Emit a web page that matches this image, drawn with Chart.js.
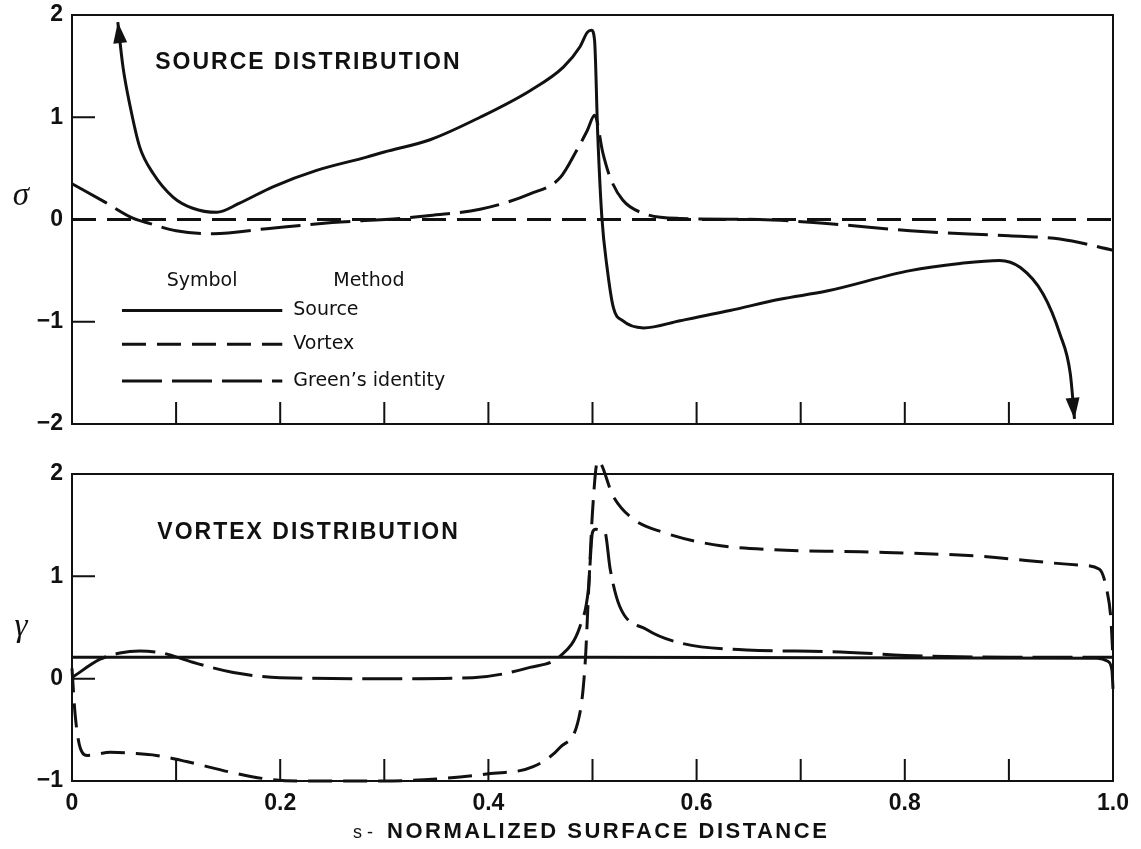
<!DOCTYPE html>
<html>
<head>
<meta charset="utf-8">
<script src="https://cdn.jsdelivr.net/npm/chart.js@4.4.1/dist/chart.umd.min.js"></script>
<style>
  html, body { margin: 0; padding: 0; background: #fff; }
  #wrap { position: relative; width: 1141px; height: 849px; }
  canvas { position: absolute; left: 0; }
  #sigma-chart { top: 0; }
  #gamma-chart { top: 445px; }
</style>
</head>
<body>
<div id="wrap">
  <canvas id="sigma-chart" width="1141" height="445"></canvas>
  <canvas id="gamma-chart" width="1141" height="404"></canvas>
</div>
<script>
// s = normalized surface distance

// source distribution (sigma)
const sourceSigmaS = [0.044, 0.049, 0.056, 0.065, 0.078, 0.097, 0.116, 0.139, 0.161, 0.193, 0.235, 0.283, 0.30,
    0.344, 0.392, 0.44, 0.472, 0.488, 0.495, 0.499, 0.502, 0.505, 0.509, 0.514, 0.52, 0.529, 0.549, 0.584,
    0.632, 0.68, 0.725, 0.805, 0.853, 0.891, 0.911, 0.933, 0.949, 0.959, 0.963];
const sourceSigma = [1.93, 1.49, 1.10, 0.71, 0.45, 0.22, 0.11, 0.07, 0.16, 0.32, 0.48, 0.61, 0.66,
    0.78, 1.0, 1.26, 1.49, 1.69, 1.83, 1.85, 1.75, 0.84, 0.02, -0.47, -0.86, -0.99, -1.06, -0.99,
    -0.89, -0.78, -0.70, -0.50, -0.43, -0.40, -0.47, -0.73, -1.12, -1.51, -1.95];

const vortexSigmaS = [0, 1];
const vortexSigma = [0, 0];

const greenSigmaS = [0, 0.03, 0.059, 0.075, 0.1, 0.136, 0.187, 0.25, 0.315, 0.344, 0.392, 0.44, 0.469,
    0.485, 0.495, 0.502, 0.51, 0.517, 0.529, 0.549, 0.584, 0.66, 0.725, 0.805, 0.90, 0.949, 1.0];
const greenSigma = [0.35, 0.18, 0.01, -0.04, -0.11, -0.14, -0.09, -0.03, 0.01, 0.04, 0.10, 0.25, 0.41,
    0.68, 0.87, 1.02, 0.65, 0.41, 0.19, 0.06, 0.01, 0.0, -0.04, -0.11, -0.16, -0.19, -0.30];

// vortex distribution (gamma)
const sourceGammaS = [0, 0.5, 0.985, 0.995, 0.999, 1.0];
const sourceGamma = [0.21, 0.21, 0.2, 0.17, 0.08, -0.1];

const vortexGammaS = [0, 0.003, 0.008, 0.015, 0.037, 0.059, 0.081, 0.11, 0.155, 0.187, 0.22, 0.3, 0.35,
    0.40, 0.443, 0.469, 0.488, 0.493, 0.496, 0.50, 0.505, 0.52, 0.539, 0.568, 0.616, 0.673, 0.757,
    0.866, 0.968, 0.987, 0.994, 0.998, 1.0];
const vortexGamma = [0.1, -0.35, -0.68, -0.75, -0.72, -0.73, -0.75, -0.81, -0.92, -0.98, -1.0, -1.0, -0.98,
    -0.93, -0.86, -0.67, -0.33, 0.16, 0.80, 1.63, 2.13, 1.78, 1.56, 1.43, 1.31, 1.26, 1.24,
    1.20, 1.11, 1.07, 0.87, 0.58, 0.19];

const greenGammaS = [0, 0.027, 0.046, 0.065, 0.087, 0.116, 0.155, 0.2, 0.3, 0.385, 0.44, 0.469, 0.488,
    0.496, 0.500, 0.503, 0.508, 0.512, 0.517, 0.526, 0.552, 0.584, 0.648, 0.725, 0.82, 0.9, 1.0];
const greenGamma = [0.01, 0.19, 0.25, 0.27, 0.25, 0.16, 0.06, 0.01, 0.0, 0.01, 0.11, 0.22, 0.51,
    0.87, 1.43, 1.46, 1.45, 1.43, 1.07, 0.71, 0.48, 0.35, 0.28, 0.265, 0.22, 0.21, 0.21];

// axes
const sTicks = [0, 0.2, 0.4, 0.6, 0.8, 1.0];
const sMinorTicks = [0.1, 0.2, 0.3, 0.4, 0.5, 0.6, 0.7, 0.8, 0.9];
const sigmaTicks = [-2, -1, 0, 1, 2];
const gammaTicks = [-1, 0, 1, 2];

const methods = ["Source", "Vortex", "Green\u2019s identity"];

const INK = "#111";
const SANS = "'Liberation Sans', Arial, Helvetica, sans-serif";
const SERIF = "'Liberation Serif', 'Times New Roman', serif";
const dashes = {
    Source: [],
    Vortex: [24, 11],
    "Green\u2019s identity": [40, 10]
};

function pairs(xs, ys) {
    return xs.map((x, i) => ({x, y: ys[i]}));
}

function minus(v) {
    return v < 0 ? "\u2212" + Math.abs(v) : String(v);
}

function line(label, xs, ys, method) {
    return {
        label,
        data: pairs(xs, ys),
        borderColor: INK,
        borderWidth: 3,
        borderDash: dashes[method],
        borderCapStyle: "butt",
        pointRadius: 0,
        cubicInterpolationMode: "monotone",
        clip: {left: 4, right: 4, top: 16, bottom: 4},
        fill: false
    };
}

// frame, inward tick marks
const frameTicks = {
    id: "frameTicks",
    afterDatasetsDraw(chart, args, opts) {
        const {ctx, chartArea: a, scales: {x, y}} = chart;
        ctx.save();
        ctx.strokeStyle = INK;
        ctx.lineWidth = 2;
        ctx.strokeRect(a.left, a.top, a.right - a.left, a.bottom - a.top);
        ctx.beginPath();
        sMinorTicks.forEach(v => {
            const px = x.getPixelForValue(v);
            ctx.moveTo(px, a.bottom);
            ctx.lineTo(px, a.bottom - 22);
        });
        opts.yTicks.forEach(v => {
            const py = y.getPixelForValue(v);
            ctx.moveTo(a.left, py);
            ctx.lineTo(a.left + 23, py);
        });
        ctx.stroke();
        ctx.restore();
    }
};

// arrow heads on the ends of the source curve
const arrowHeads = {
    id: "arrowHeads",
    afterDatasetsDraw(chart, args, opts) {
        if (opts.dataset == null) return;
        const pts = chart.getDatasetMeta(opts.dataset).data;
        const {ctx} = chart;
        const head = (tip, from) => {
            const ang = Math.atan2(tip.y - from.y, tip.x - from.x);
            const len = 21, half = 7;
            ctx.beginPath();
            ctx.moveTo(tip.x, tip.y);
            ctx.lineTo(tip.x - len * Math.cos(ang) + half * Math.sin(ang), tip.y - len * Math.sin(ang) - half * Math.cos(ang));
            ctx.lineTo(tip.x - len * Math.cos(ang) - half * Math.sin(ang), tip.y - len * Math.sin(ang) + half * Math.cos(ang));
            ctx.closePath();
            ctx.fill();
        };
        ctx.save();
        ctx.fillStyle = INK;
        head(pts[0], pts[1]);
        head(pts[pts.length - 1], pts[pts.length - 2]);
        ctx.restore();
    }
};

// panel title, axis symbol, method key and s-axis caption
const panelText = {
    id: "panelText",
    afterDraw(chart, args, opts) {
        const {ctx, chartArea: a, scales: {x, y}} = chart;
        ctx.save();
        ctx.fillStyle = INK;
        ctx.textBaseline = "middle";
        ctx.textAlign = "left";

        ctx.font = "bold 23px " + SANS;
        ctx.letterSpacing = "2px";
        ctx.fillText(opts.title, x.getPixelForValue(opts.titleAt[0]), y.getPixelForValue(opts.titleAt[1]));
        ctx.letterSpacing = "0px";

        ctx.font = "italic 33px " + SERIF;
        ctx.textAlign = "center";
        ctx.textBaseline = "alphabetic";
        ctx.fillText(opts.symbol, a.left - 51, y.getPixelForValue(opts.symbolAt));

        if (opts.key) {
            ctx.textAlign = "left";
            ctx.textBaseline = "middle";
            ctx.font = "19px 'DejaVu Sans', " + SANS;
            const x0 = x.getPixelForValue(0.048), x1 = x.getPixelForValue(0.202);
            ctx.fillText("Symbol", x.getPixelForValue(0.091), y.getPixelForValue(-0.6));
            ctx.fillText("Method", x.getPixelForValue(0.251), y.getPixelForValue(-0.6));
            [-0.89, -1.22, -1.58].forEach((v, i) => {
                const py = y.getPixelForValue(v);
                ctx.beginPath();
                ctx.lineWidth = 3;
                ctx.strokeStyle = INK;
                ctx.setLineDash(dashes[methods[i]]);
                ctx.moveTo(x0, py);
                ctx.lineTo(x1, py);
                ctx.stroke();
                ctx.setLineDash([]);
                ctx.fillText(methods[i], x1 + 11, py);
            });
        }

        if (opts.caption) {
            ctx.textAlign = "left";
            ctx.textBaseline = "middle";
            const cy = a.bottom + 51;
            let cx = 353;
            ctx.font = "18px " + SANS;
            ctx.fillText("s -", cx, cy + 1);
            cx = 387;
            ctx.font = "bold 22px " + SANS;
            ctx.letterSpacing = "2.5px";
            ctx.fillText("NORMALIZED SURFACE DISTANCE", cx, cy);
            ctx.letterSpacing = "0px";
        }
        ctx.restore();
    }
};

Chart.register(frameTicks, arrowHeads, panelText);

function axes(yTicks, yMin, yMax, showX) {
    return {
        x: {
            type: "linear",
            min: 0,
            max: 1,
            display: showX,
            afterBuildTicks: s => { s.ticks = sTicks.map(value => ({value})); },
            afterFit: s => {
                s.height = showX ? 68 : 0;
                s.paddingLeft = 0;
                s.paddingRight = 0;
            },
            grid: {display: false, drawTicks: false},
            border: {display: false},
            ticks: {
                autoSkip: false,
                maxRotation: 0,
                padding: 9,
                color: INK,
                font: {family: SANS, size: 23, weight: "bold"},
                callback: v => (v === 0 ? "0" : v.toFixed(1))
            }
        },
        y: {
            type: "linear",
            min: yMin,
            max: yMax,
            afterBuildTicks: s => { s.ticks = yTicks.map(value => ({value})); },
            afterFit: s => {
                s.width = 72;
                s.paddingTop = 0;
                s.paddingBottom = 0;
            },
            grid: {display: false, drawTicks: false},
            border: {display: false},
            ticks: {
                padding: 9,
                color: INK,
                font: {family: SANS, size: 23, weight: "bold"},
                callback: v => minus(v)
            }
        }
    };
}

const common = {
    responsive: false,
    animation: false,
    events: [],
    plugins: {legend: {display: false}, tooltip: {enabled: false}}
};

new Chart(document.getElementById("sigma-chart"), {
    type: "line",
    data: {
        datasets: [
            line("Source", sourceSigmaS, sourceSigma, "Source"),
            line("Vortex", vortexSigmaS, vortexSigma, "Vortex"),
            line("Green's identity", greenSigmaS, greenSigma, "Green\u2019s identity")
        ]
    },
    options: {
        ...common,
        layout: {padding: {left: 0, right: 28, top: 15, bottom: 21}},
        scales: axes(sigmaTicks, -2, 2, false),
        plugins: {
            ...common.plugins,
            frameTicks: {yTicks: [1, 0, -1]},
            arrowHeads: {dataset: 0},
            panelText: {title: "SOURCE DISTRIBUTION", titleAt: [0.08, 1.53], symbol: "\u03c3", symbolAt: 0.14, key: true}
        }
    }
});

new Chart(document.getElementById("gamma-chart"), {
    type: "line",
    data: {
        datasets: [
            line("Source", sourceGammaS, sourceGamma, "Source"),
            line("Vortex", vortexGammaS, vortexGamma, "Vortex"),
            line("Green's identity", greenGammaS, greenGamma, "Green\u2019s identity")
        ]
    },
    options: {
        ...common,
        layout: {padding: {left: 0, right: 28, top: 29, bottom: 0}},
        scales: axes(gammaTicks, -1, 2, true),
        plugins: {
            ...common.plugins,
            frameTicks: {yTicks: [1, 0]},
            arrowHeads: {dataset: null},
            panelText: {title: "VORTEX DISTRIBUTION", titleAt: [0.082, 1.43], symbol: "\u03b3", symbolAt: 0.42, caption: true}
        }
    }
});
</script>
</body>
</html>
